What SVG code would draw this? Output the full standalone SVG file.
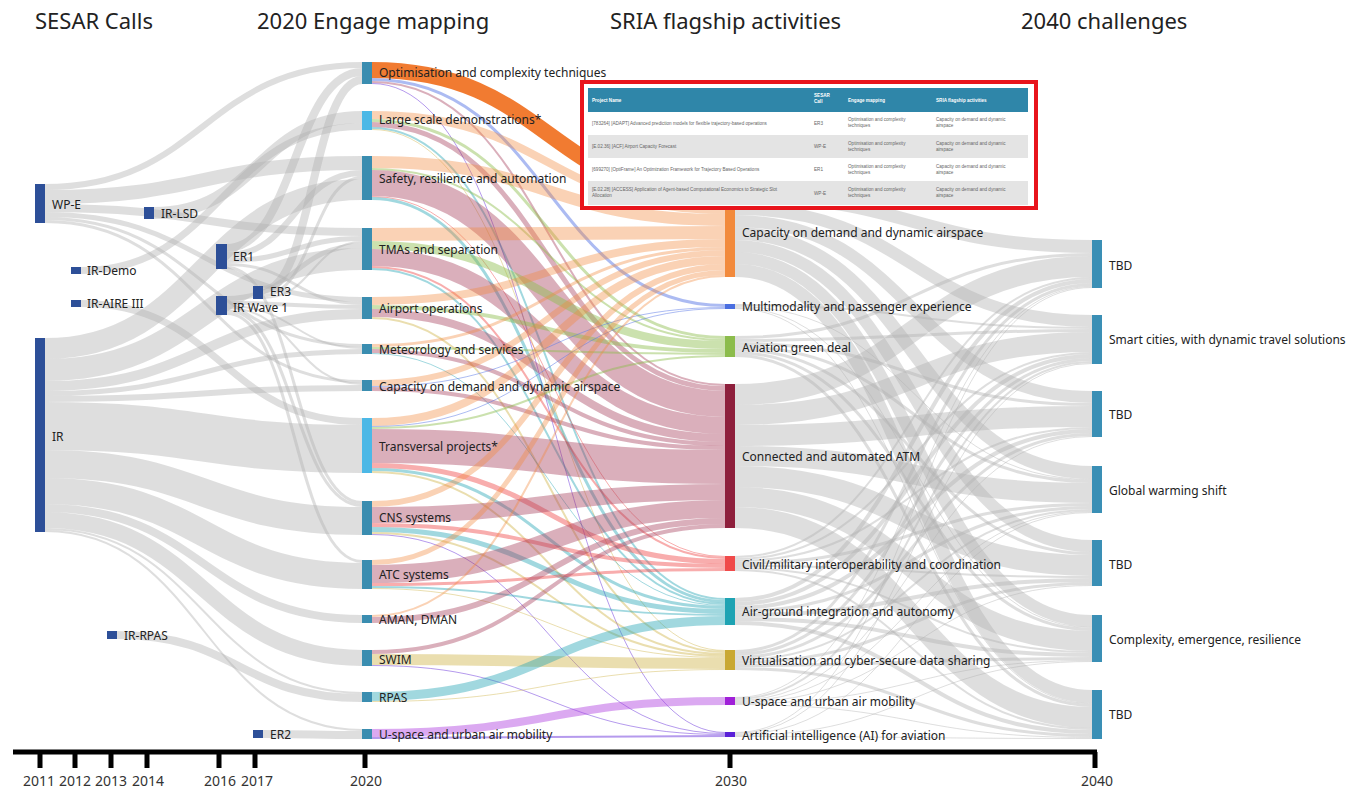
<svg xmlns="http://www.w3.org/2000/svg" width="1359" height="791" viewBox="0 0 1359 791">
<style>
text{font-family:"Noto Sans","Open Sans","Liberation Sans",sans-serif;fill:#222}
.t{font-size:22px}
.l{font-size:12px;dominant-baseline:central}
.y{font-size:14px;text-anchor:middle;fill:#333}
.links path{fill:none}
.g{stroke:#b0b0b0;stroke-opacity:.42}
.cap{stroke:#f28a3c;stroke-opacity:.38}
.capH{stroke:#f07020;stroke-opacity:.92}
.mul{stroke:#5a78e6;stroke-opacity:.5}
.grn{stroke:#8cbc4c;stroke-opacity:.45}
.atm{stroke:#a8405e;stroke-opacity:.42}
.civ{stroke:#f04a4a;stroke-opacity:.45}
.agi{stroke:#1ea3b3;stroke-opacity:.42}
.vir{stroke:#cdb040;stroke-opacity:.42}
.usp{stroke:#b040e0;stroke-opacity:.45}
.ai{stroke:#5a20d8;stroke-opacity:.45}
.nL{fill:#2d4f98}
.nM{fill:#3a8db0}
.nM2{fill:#4cb8e6}
.nR{fill:#3a8fb5}
.th{font-size:4.6px;font-family:"Liberation Sans",Arial,sans-serif;fill:#fff;font-weight:bold}
.td{font-size:4.6px;font-family:"Liberation Sans",Arial,sans-serif;fill:#666}
</style>
<rect width="1359" height="791" fill="#fff"/>
<g id="titles">
<text class="t" x="35" y="29">SESAR Calls</text>
<text class="t" x="257" y="29">2020 Engage mapping</text>
<text class="t" x="610" y="29">SRIA flagship activities</text>
<text class="t" x="1021" y="29">2040 challenges</text>
</g>
<g id="connectors" class="links">
<g id="links-left">
<path class="g" stroke-width="6" d="M45,187 C203.5,187 203.5,65 362,65"/>
<path class="g" stroke-width="14" d="M45,197 C203.5,197 203.5,163 362,163"/>
<path class="g" stroke-width="8" d="M45,208 C203.5,208 203.5,232 362,232"/>
<path class="g" stroke-width="5" d="M45,214.5 C203.5,214.5 203.5,299.5 362,299.5"/>
<path class="g" stroke-width="3" d="M45,218.5 C203.5,218.5 203.5,345.5 362,345.5"/>
<path class="g" stroke-width="3" d="M45,221.5 C203.5,221.5 203.5,381.5 362,381.5"/>
<path class="g" stroke-width="12" d="M154,213 C258,213 258,117 362,117"/>
<path class="g" stroke-width="7" d="M81,270.5 C221.5,270.5 221.5,126.5 362,126.5"/>
<path class="g" stroke-width="7" d="M81,303.5 C221.5,303.5 221.5,421.5 362,421.5"/>
<path class="g" stroke-width="8" d="M227,248 C294.5,248 294.5,72 362,72"/>
<path class="g" stroke-width="6" d="M227,255 C294.5,255 294.5,173 362,173"/>
<path class="g" stroke-width="5" d="M227,260.5 C294.5,260.5 294.5,238.5 362,238.5"/>
<path class="g" stroke-width="3" d="M227,264.5 C294.5,264.5 294.5,303.5 362,303.5"/>
<path class="g" stroke-width="3" d="M227,267.5 C294.5,267.5 294.5,502.5 362,502.5"/>
<path class="g" stroke-width="8" d="M263,290 C312.5,290 312.5,80 362,80"/>
<path class="g" stroke-width="3" d="M263,295.5 C312.5,295.5 312.5,177.5 362,177.5"/>
<path class="g" stroke-width="2" d="M263,298 C312.5,298 312.5,242 362,242"/>
<path class="g" stroke-width="5" d="M227,298.5 C294.5,298.5 294.5,245.5 362,245.5"/>
<path class="g" stroke-width="4" d="M227,303 C294.5,303 294.5,307 362,307"/>
<path class="g" stroke-width="2" d="M227,306 C294.5,306 294.5,348 362,348"/>
<path class="g" stroke-width="2" d="M227,308 C294.5,308 294.5,384 362,384"/>
<path class="g" stroke-width="3" d="M227,310.5 C294.5,310.5 294.5,505.5 362,505.5"/>
<path class="g" stroke-width="3" d="M227,313.5 C294.5,313.5 294.5,561.5 362,561.5"/>
<path class="g" stroke-width="21" d="M45,348.5 C203.5,348.5 203.5,189.5 362,189.5"/>
<path class="g" stroke-width="22" d="M45,370 C203.5,370 203.5,259 362,259"/>
<path class="g" stroke-width="10" d="M45,386 C203.5,386 203.5,314 362,314"/>
<path class="g" stroke-width="5" d="M45,393.5 C203.5,393.5 203.5,351.5 362,351.5"/>
<path class="g" stroke-width="6" d="M45,399 C203.5,399 203.5,388 362,388"/>
<path class="g" stroke-width="48" d="M45,426 C203.5,426 203.5,449 362,449"/>
<path class="g" stroke-width="28" d="M45,464 C203.5,464 203.5,521 362,521"/>
<path class="g" stroke-width="26" d="M45,491 C203.5,491 203.5,576 362,576"/>
<path class="g" stroke-width="8" d="M45,508 C203.5,508 203.5,619 362,619"/>
<path class="g" stroke-width="16" d="M45,520 C203.5,520 203.5,658 362,658"/>
<path class="g" stroke-width="2" d="M45,529 C203.5,529 203.5,693 362,693"/>
<path class="g" stroke-width="2" d="M45,531 C203.5,531 203.5,730 362,730"/>
<path class="g" stroke-width="8" d="M117,635 C239.5,635 239.5,698 362,698"/>
<path class="g" stroke-width="8" d="M263,734 C312.5,734 312.5,735 362,735"/>
</g>
<g id="links-mid">
<path class="mul" stroke-width="3" d="M372,79.5 C548.5,79.5 548.5,305.5 725,305.5"/>
<path class="atm" stroke-width="2" d="M372,82 C548.5,82 548.5,385 725,385"/>
<path class="ai" stroke-width="1" d="M372,83.5 C548.5,83.5 548.5,732.5 725,732.5"/>
<path class="cap" stroke-width="8" d="M372,115 C548.5,115 548.5,210 725,210"/>
<path class="grn" stroke-width="3" d="M372,120.5 C548.5,120.5 548.5,337.5 725,337.5"/>
<path class="atm" stroke-width="5" d="M372,124.5 C548.5,124.5 548.5,388.5 725,388.5"/>
<path class="agi" stroke-width="2" d="M372,128 C548.5,128 548.5,599 725,599"/>
<path class="vir" stroke-width="1" d="M372,129.5 C548.5,129.5 548.5,650.5 725,650.5"/>
<path class="cap" stroke-width="12" d="M372,162 C548.5,162 548.5,220 725,220"/>
<path class="grn" stroke-width="2" d="M372,169 C548.5,169 548.5,340 725,340"/>
<path class="atm" stroke-width="26" d="M372,183 C548.5,183 548.5,404 725,404"/>
<path class="civ" stroke-width="1" d="M372,196.5 C548.5,196.5 548.5,556.5 725,556.5"/>
<path class="agi" stroke-width="3" d="M372,198.5 C548.5,198.5 548.5,601.5 725,601.5"/>
<path class="cap" stroke-width="13" d="M372,234.5 C548.5,234.5 548.5,232.5 725,232.5"/>
<path class="grn" stroke-width="8" d="M372,245 C548.5,245 548.5,345 725,345"/>
<path class="atm" stroke-width="17" d="M372,257.5 C548.5,257.5 548.5,425.5 725,425.5"/>
<path class="civ" stroke-width="2" d="M372,267 C548.5,267 548.5,558 725,558"/>
<path class="agi" stroke-width="2" d="M372,269 C548.5,269 548.5,604 725,604"/>
<path class="cap" stroke-width="8" d="M372,301 C548.5,301 548.5,243 725,243"/>
<path class="grn" stroke-width="4" d="M372,307 C548.5,307 548.5,351 725,351"/>
<path class="atm" stroke-width="8" d="M372,313 C548.5,313 548.5,438 725,438"/>
<path class="vir" stroke-width="2" d="M372,318 C548.5,318 548.5,652 725,652"/>
<path class="cap" stroke-width="3" d="M372,345.5 C548.5,345.5 548.5,248.5 725,248.5"/>
<path class="grn" stroke-width="2" d="M372,348 C548.5,348 548.5,354 725,354"/>
<path class="atm" stroke-width="4" d="M372,351 C548.5,351 548.5,444 725,444"/>
<path class="agi" stroke-width="1" d="M372,353.5 C548.5,353.5 548.5,605.5 725,605.5"/>
<path class="cap" stroke-width="6" d="M372,383 C548.5,383 548.5,253 725,253"/>
<path class="mul" stroke-width="1" d="M372,386.5 C548.5,386.5 548.5,307.5 725,307.5"/>
<path class="atm" stroke-width="4" d="M372,389 C548.5,389 548.5,448 725,448"/>
<path class="cap" stroke-width="8" d="M372,422 C548.5,422 548.5,260 725,260"/>
<path class="mul" stroke-width="1" d="M372,426.5 C548.5,426.5 548.5,308.5 725,308.5"/>
<path class="grn" stroke-width="2" d="M372,428 C548.5,428 548.5,356 725,356"/>
<path class="atm" stroke-width="34" d="M372,446 C548.5,446 548.5,467 725,467"/>
<path class="civ" stroke-width="5" d="M372,465.5 C548.5,465.5 548.5,561.5 725,561.5"/>
<path class="agi" stroke-width="3" d="M372,469.5 C548.5,469.5 548.5,607.5 725,607.5"/>
<path class="vir" stroke-width="2" d="M372,472 C548.5,472 548.5,654 725,654"/>
<path class="cap" stroke-width="6" d="M372,504 C548.5,504 548.5,267 725,267"/>
<path class="atm" stroke-width="16" d="M372,515 C548.5,515 548.5,492 725,492"/>
<path class="civ" stroke-width="4" d="M372,525 C548.5,525 548.5,566 725,566"/>
<path class="agi" stroke-width="5" d="M372,529.5 C548.5,529.5 548.5,611.5 725,611.5"/>
<path class="vir" stroke-width="2" d="M372,533 C548.5,533 548.5,656 725,656"/>
<path class="ai" stroke-width="1" d="M372,534.5 C548.5,534.5 548.5,733.5 725,733.5"/>
<path class="cap" stroke-width="5" d="M372,562.5 C548.5,562.5 548.5,272.5 725,272.5"/>
<path class="atm" stroke-width="18" d="M372,574 C548.5,574 548.5,509 725,509"/>
<path class="civ" stroke-width="3" d="M372,584.5 C548.5,584.5 548.5,569.5 725,569.5"/>
<path class="agi" stroke-width="2" d="M372,587 C548.5,587 548.5,615 725,615"/>
<path class="vir" stroke-width="1" d="M372,588.5 C548.5,588.5 548.5,657.5 725,657.5"/>
<path class="cap" stroke-width="2" d="M372,616 C548.5,616 548.5,276 725,276"/>
<path class="atm" stroke-width="6" d="M372,620 C548.5,620 548.5,521 725,521"/>
<path class="atm" stroke-width="4" d="M372,652 C548.5,652 548.5,526 725,526"/>
<path class="vir" stroke-width="11" d="M372,659.5 C548.5,659.5 548.5,663.5 725,663.5"/>
<path class="ai" stroke-width="1" d="M372,665.5 C548.5,665.5 548.5,734.5 725,734.5"/>
<path class="agi" stroke-width="9" d="M372,696.5 C548.5,696.5 548.5,620.5 725,620.5"/>
<path class="vir" stroke-width="1" d="M372,701.5 C548.5,701.5 548.5,669.5 725,669.5"/>
<path class="usp" stroke-width="8" d="M372,733 C548.5,733 548.5,701 725,701"/>
<path class="ai" stroke-width="2" d="M372,738 C548.5,738 548.5,736 725,736"/>
<path class="capH" stroke-width="16" d="M372,70 C548.5,70 548.5,198 725,198"/>
</g>
<g id="links-right">
<path class="g" stroke-width="13" d="M735,196.5 C913.5,196.5 913.5,246.5 1092,246.5"/>
<path class="g" stroke-width="12" d="M735,209 C913.5,209 913.5,321 1092,321"/>
<path class="g" stroke-width="12" d="M735,221 C913.5,221 913.5,397 1092,397"/>
<path class="g" stroke-width="13" d="M735,233.5 C913.5,233.5 913.5,472.5 1092,472.5"/>
<path class="g" stroke-width="12" d="M735,246 C913.5,246 913.5,546 1092,546"/>
<path class="g" stroke-width="12" d="M735,258 C913.5,258 913.5,621 1092,621"/>
<path class="g" stroke-width="13" d="M735,270.5 C913.5,270.5 913.5,696.5 1092,696.5"/>
<path class="g" stroke-width="2" d="M735,305 C913.5,305 913.5,328 1092,328"/>
<path class="g" stroke-width="1" d="M735,306.5 C913.5,306.5 913.5,479.5 1092,479.5"/>
<path class="g" stroke-width="1" d="M735,307.5 C913.5,307.5 913.5,627.5 1092,627.5"/>
<path class="g" stroke-width="1" d="M735,308.5 C913.5,308.5 913.5,703.5 1092,703.5"/>
<path class="g" stroke-width="3" d="M735,337.5 C913.5,337.5 913.5,254.5 1092,254.5"/>
<path class="g" stroke-width="3" d="M735,340.5 C913.5,340.5 913.5,330.5 1092,330.5"/>
<path class="g" stroke-width="3" d="M735,343.5 C913.5,343.5 913.5,404.5 1092,404.5"/>
<path class="g" stroke-width="3" d="M735,346.5 C913.5,346.5 913.5,481.5 1092,481.5"/>
<path class="g" stroke-width="3" d="M735,349.5 C913.5,349.5 913.5,553.5 1092,553.5"/>
<path class="g" stroke-width="3" d="M735,352.5 C913.5,352.5 913.5,629.5 1092,629.5"/>
<path class="g" stroke-width="3" d="M735,355.5 C913.5,355.5 913.5,705.5 1092,705.5"/>
<path class="g" stroke-width="21" d="M735,394.5 C913.5,394.5 913.5,266.5 1092,266.5"/>
<path class="g" stroke-width="20" d="M735,415 C913.5,415 913.5,342 1092,342"/>
<path class="g" stroke-width="21" d="M735,435.5 C913.5,435.5 913.5,416.5 1092,416.5"/>
<path class="g" stroke-width="20" d="M735,456 C913.5,456 913.5,493 1092,493"/>
<path class="g" stroke-width="21" d="M735,476.5 C913.5,476.5 913.5,565.5 1092,565.5"/>
<path class="g" stroke-width="20" d="M735,497 C913.5,497 913.5,641 1092,641"/>
<path class="g" stroke-width="21" d="M735,517.5 C913.5,517.5 913.5,717.5 1092,717.5"/>
<path class="g" stroke-width="2" d="M735,557 C913.5,557 913.5,278 1092,278"/>
<path class="g" stroke-width="2" d="M735,559 C913.5,559 913.5,353 1092,353"/>
<path class="g" stroke-width="2" d="M735,561 C913.5,561 913.5,428 1092,428"/>
<path class="g" stroke-width="3" d="M735,563.5 C913.5,563.5 913.5,504.5 1092,504.5"/>
<path class="g" stroke-width="2" d="M735,566 C913.5,566 913.5,577 1092,577"/>
<path class="g" stroke-width="2" d="M735,568 C913.5,568 913.5,652 1092,652"/>
<path class="g" stroke-width="2" d="M735,570 C913.5,570 913.5,729 1092,729"/>
<path class="g" stroke-width="4" d="M735,600 C913.5,600 913.5,281 1092,281"/>
<path class="g" stroke-width="4" d="M735,604 C913.5,604 913.5,356 1092,356"/>
<path class="g" stroke-width="4" d="M735,608 C913.5,608 913.5,431 1092,431"/>
<path class="g" stroke-width="3" d="M735,611.5 C913.5,611.5 913.5,507.5 1092,507.5"/>
<path class="g" stroke-width="4" d="M735,615 C913.5,615 913.5,580 1092,580"/>
<path class="g" stroke-width="4" d="M735,619 C913.5,619 913.5,655 1092,655"/>
<path class="g" stroke-width="4" d="M735,623 C913.5,623 913.5,732 1092,732"/>
<path class="g" stroke-width="3" d="M735,651.5 C913.5,651.5 913.5,284.5 1092,284.5"/>
<path class="g" stroke-width="3" d="M735,654.5 C913.5,654.5 913.5,359.5 1092,359.5"/>
<path class="g" stroke-width="3" d="M735,657.5 C913.5,657.5 913.5,434.5 1092,434.5"/>
<path class="g" stroke-width="2" d="M735,660 C913.5,660 913.5,510 1092,510"/>
<path class="g" stroke-width="3" d="M735,662.5 C913.5,662.5 913.5,583.5 1092,583.5"/>
<path class="g" stroke-width="3" d="M735,665.5 C913.5,665.5 913.5,658.5 1092,658.5"/>
<path class="g" stroke-width="3" d="M735,668.5 C913.5,668.5 913.5,735.5 1092,735.5"/>
<path class="g" stroke-width="1" d="M735,697.5 C913.5,697.5 913.5,286.5 1092,286.5"/>
<path class="g" stroke-width="2" d="M735,699 C913.5,699 913.5,362 1092,362"/>
<path class="g" stroke-width="1" d="M735,700.5 C913.5,700.5 913.5,436.5 1092,436.5"/>
<path class="g" stroke-width="1" d="M735,701.5 C913.5,701.5 913.5,511.5 1092,511.5"/>
<path class="g" stroke-width="1" d="M735,702.5 C913.5,702.5 913.5,585.5 1092,585.5"/>
<path class="g" stroke-width="1" d="M735,703.5 C913.5,703.5 913.5,660.5 1092,660.5"/>
<path class="g" stroke-width="1" d="M735,704.5 C913.5,704.5 913.5,737.5 1092,737.5"/>
<path class="g" stroke-width="1" d="M735,732.5 C913.5,732.5 913.5,287.5 1092,287.5"/>
<path class="g" stroke-width="1" d="M735,733.5 C913.5,733.5 913.5,363.5 1092,363.5"/>
<path class="g" stroke-width="1" d="M735,734.5 C913.5,734.5 913.5,512.5 1092,512.5"/>
<path class="g" stroke-width="1" d="M735,735.5 C913.5,735.5 913.5,661.5 1092,661.5"/>
<path class="g" stroke-width="1" d="M735,736.5 C913.5,736.5 913.5,738.5 1092,738.5"/>
</g>
</g>
<g id="sesar-calls">
<g id="n-wpe"><rect class="nL" x="35" y="184" width="10" height="39"/><text class="l" x="52" y="204">WP-E</text></g>
<g id="n-irlsd"><rect class="nL" x="144" y="207" width="10" height="12"/><text class="l" x="161" y="213">IR-LSD</text></g>
<g id="n-irdemo"><rect class="nL" x="71" y="267" width="10" height="7"/><text class="l" x="87" y="270.5">IR-Demo</text></g>
<g id="n-iraire"><rect class="nL" x="71" y="300" width="10" height="7"/><text class="l" x="87" y="303.5">IR-AIRE III</text></g>
<g id="n-ir"><rect class="nL" x="35" y="338" width="10" height="194"/><text class="l" x="52" y="436">IR</text></g>
<g id="n-er1"><rect class="nL" x="216" y="244" width="11" height="25"/><text class="l" x="233" y="256">ER1</text></g>
<g id="n-irw1"><rect class="nL" x="216" y="296" width="11" height="19"/><text class="l" x="233" y="307">IR Wave 1</text></g>
<g id="n-er3"><rect class="nL" x="253" y="286" width="10" height="13"/><text class="l" x="270" y="291">ER3</text></g>
<g id="n-irrpas"><rect class="nL" x="107" y="631" width="10" height="8"/><text class="l" x="124" y="635">IR-RPAS</text></g>
<g id="n-er2"><rect class="nL" x="253" y="730" width="10" height="8"/><text class="l" x="270" y="734">ER2</text></g>
</g>
<g id="engage-mapping">
<g id="m-opt"><rect class="nM" x="362" y="62" width="10" height="22"/><text class="l" x="379" y="72">Optimisation and complexity techniques</text></g>
<g id="m-lsd"><rect class="nM2" x="362" y="111" width="10" height="19"/><text class="l" x="379" y="119">Large scale demonstrations*</text></g>
<g id="m-safety"><rect class="nM" x="362" y="156" width="10" height="44"/><text class="l" x="379" y="178">Safety, resilience and automation</text></g>
<g id="m-tma"><rect class="nM" x="362" y="228" width="10" height="42"/><text class="l" x="379" y="249">TMAs and separation</text></g>
<g id="m-airport"><rect class="nM" x="362" y="297" width="10" height="22"/><text class="l" x="379" y="308">Airport operations</text></g>
<g id="m-met"><rect class="nM" x="362" y="344" width="10" height="10"/><text class="l" x="379" y="349">Meteorology and services</text></g>
<g id="m-capd"><rect class="nM" x="362" y="380" width="10" height="11"/><text class="l" x="379" y="386">Capacity on demand and dynamic airspace</text></g>
<g id="m-transv"><rect class="nM2" x="362" y="418" width="10" height="55"/><text class="l" x="379" y="446">Transversal projects*</text></g>
<g id="m-cns"><rect class="nM" x="362" y="501" width="10" height="34"/><text class="l" x="379" y="517">CNS systems</text></g>
<g id="m-atc"><rect class="nM" x="362" y="560" width="10" height="29"/><text class="l" x="379" y="574">ATC systems</text></g>
<g id="m-aman"><rect class="nM" x="362" y="615" width="10" height="8"/><text class="l" x="379" y="619">AMAN, DMAN</text></g>
<g id="m-swim"><rect class="nM" x="362" y="650" width="10" height="16"/><text class="l" x="379" y="659">SWIM</text></g>
<g id="m-rpas"><rect class="nM" x="362" y="692" width="10" height="10"/><text class="l" x="379" y="697">RPAS</text></g>
<g id="m-uspace"><rect class="nM" x="362" y="729" width="10" height="10"/><text class="l" x="379" y="734">U-space and urban air mobility</text></g>
</g>
<g id="sria">
<g id="s-capd"><rect fill="#f28a3c" x="725" y="190" width="10" height="87"/><text class="l" x="742" y="232">Capacity on demand and dynamic airspace</text></g>
<g id="s-multi"><rect fill="#4a6ee0" x="725" y="304" width="10" height="5"/><text class="l" x="742" y="306">Multimodality and passenger experience</text></g>
<g id="s-green"><rect fill="#8cbc4c" x="725" y="336" width="10" height="21"/><text class="l" x="742" y="347">Aviation green deal</text></g>
<g id="s-catm"><rect fill="#8e1f3c" x="725" y="384" width="10" height="144"/><text class="l" x="742" y="456">Connected and automated ATM</text></g>
<g id="s-civil"><rect fill="#f04a4a" x="725" y="556" width="10" height="15"/><text class="l" x="742" y="564">Civil/military interoperability and coordination</text></g>
<g id="s-airg"><rect fill="#1ea3b3" x="725" y="598" width="10" height="27"/><text class="l" x="742" y="611">Air-ground integration and autonomy</text></g>
<g id="s-virt"><rect fill="#c9a832" x="725" y="650" width="10" height="20"/><text class="l" x="742" y="660">Virtualisation and cyber-secure data sharing</text></g>
<g id="s-usp"><rect fill="#a020d8" x="725" y="697" width="10" height="8"/><text class="l" x="742" y="701">U-space and urban air mobility</text></g>
<g id="s-ai"><rect fill="#5a20d8" x="725" y="732" width="10" height="5"/><text class="l" x="742" y="735">Artificial intelligence (AI) for aviation</text></g>
</g>
<g id="challenges">
<g id="c-tbd1"><rect class="nR" x="1092" y="240" width="10" height="48"/><text class="l" x="1109" y="265">TBD</text></g>
<g id="c-smart"><rect class="nR" x="1092" y="315" width="10" height="49"/><text class="l" x="1109" y="339">Smart cities, with dynamic travel solutions</text></g>
<g id="c-tbd2"><rect class="nR" x="1092" y="391" width="10" height="46"/><text class="l" x="1109" y="414">TBD</text></g>
<g id="c-gw"><rect class="nR" x="1092" y="466" width="10" height="47"/><text class="l" x="1109" y="490">Global warming shift</text></g>
<g id="c-tbd3"><rect class="nR" x="1092" y="540" width="10" height="46"/><text class="l" x="1109" y="564">TBD</text></g>
<g id="c-comp"><rect class="nR" x="1092" y="615" width="10" height="47"/><text class="l" x="1109" y="639">Complexity, emergence, resilience</text></g>
<g id="c-tbd4"><rect class="nR" x="1092" y="690" width="10" height="49"/><text class="l" x="1109" y="714">TBD</text></g>
</g>
<g id="timeline">
<path d="M13,752 H1097 M40,752 V768 M75,752 V768 M111,752 V768 M147,752 V768 M219,752 V768 M255,752 V768 M365,752 V768 M730,752 V768 M1095,752 V768" stroke="#000" stroke-width="5" fill="none"/>
<text class="y" x="39" y="786">2011</text>
<text class="y" x="75" y="786">2012</text>
<text class="y" x="111" y="786">2013</text>
<text class="y" x="148" y="786">2014</text>
<text class="y" x="220" y="786">2016</text>
<text class="y" x="257" y="786">2017</text>
<text class="y" x="366" y="786">2020</text>
<text class="y" x="731" y="786">2030</text>
<text class="y" x="1097" y="786">2040</text>
</g>
<g id="table">
<rect x="582" y="82" width="454" height="126" fill="#fff" stroke="#e8141c" stroke-width="4"/>
<rect x="588" y="88" width="440" height="24" fill="#2f86a9"/>
<rect x="588" y="135" width="440" height="23" fill="#e4e4e4"/>
<rect x="588" y="181" width="440" height="24" fill="#e4e4e4"/>
<text class="th" x="592" y="101.5">Project Name</text>
<text class="th" x="814" y="97">SESAR</text>
<text class="th" x="814" y="103">Call</text>
<text class="th" x="848" y="101.5">Engage mapping</text>
<text class="th" x="936" y="101.5">SRIA flagship activities</text>
<text class="td" x="592" y="124.5">[783264] [ADAPT] Advanced prediction models for flexible trajectory-based operations</text>
<text class="td" x="814" y="124.5">ER3</text>
<text class="td" x="848" y="121">Optimisation and complexity</text>
<text class="td" x="848" y="127">techniques</text>
<text class="td" x="936" y="121">Capacity on demand and dynamic</text>
<text class="td" x="936" y="127">airspace</text>
<text class="td" x="592" y="148">[E.02.36] [ACF] Airport Capacity Forecast</text>
<text class="td" x="814" y="148">WP-E</text>
<text class="td" x="848" y="144.5">Optimisation and complexity</text>
<text class="td" x="848" y="150.5">techniques</text>
<text class="td" x="936" y="144.5">Capacity on demand and dynamic</text>
<text class="td" x="936" y="150.5">airspace</text>
<text class="td" x="592" y="171">[699270] [OptiFrame] An Optimization Framework for Trajectory Based Operations</text>
<text class="td" x="814" y="171">ER1</text>
<text class="td" x="848" y="167.5">Optimisation and complexity</text>
<text class="td" x="848" y="173.5">techniques</text>
<text class="td" x="936" y="167.5">Capacity on demand and dynamic</text>
<text class="td" x="936" y="173.5">airspace</text>
<text class="td" x="592" y="191">[E.02.28] [ACCESS] Application of Agent-based Computational Economics to Strategic Slot</text>
<text class="td" x="592" y="197">Allocation</text>
<text class="td" x="814" y="194.5">WP-E</text>
<text class="td" x="848" y="191">Optimisation and complexity</text>
<text class="td" x="848" y="197">techniques</text>
<text class="td" x="936" y="191">Capacity on demand and dynamic</text>
<text class="td" x="936" y="197">airspace</text>
</g>
</svg>
